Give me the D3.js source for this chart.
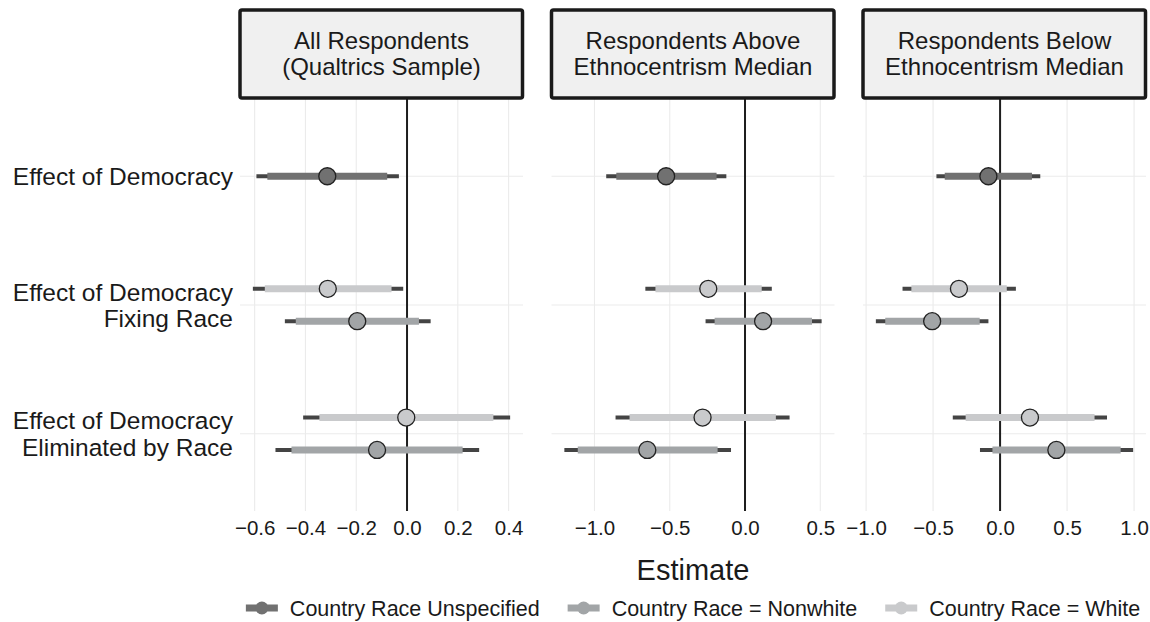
<!DOCTYPE html>
<html>
<head>
<meta charset="utf-8">
<script src="https://cdn.jsdelivr.net/npm/d3@7"></script>
<style>
  body { margin: 0; background: #fff; }
  text { font-family: "Liberation Sans", Arial, Helvetica, sans-serif; fill: #1a1a1a; }
</style>
</head>
<body>
<div id="chart"></div>
<script>

// panels (facets), categories (rows), series
var panelTitles = [
  ["All Respondents", "(Qualtrics Sample)"],
  ["Respondents Above", "Ethnocentrism Median"],
  ["Respondents Below", "Ethnocentrism Median"]
];
var categories = [
  ["Effect of Democracy"],
  ["Effect of Democracy", "Fixing Race"],
  ["Effect of Democracy", "Eliminated by Race"]
];
var seriesNames = ["Country Race Unspecified", "Country Race = Nonwhite", "Country Race = White"];
var seriesColors = ["#717171", "#a2a5a7", "#c9cacc"];

// each panel has five estimates in this row order
var rowCategory = [0, 1, 1, 2, 2];
var rowSeries = [0, 2, 1, 2, 1];

var estimates = [
  [-0.314, -0.312, -0.196, -0.003, -0.118],
  [-0.524, -0.244, 0.120, -0.282, -0.649],
  [-0.087, -0.307, -0.507, 0.223, 0.420]
];
var innerLow = [
  [-0.550, -0.560, -0.438, -0.345, -0.455],
  [-0.855, -0.595, -0.202, -0.767, -1.111],
  [-0.413, -0.662, -0.857, -0.257, -0.057]
];
var innerHigh = [
  [-0.078, -0.061, 0.047, 0.340, 0.219],
  [-0.189, 0.111, 0.445, 0.205, -0.182],
  [0.238, 0.050, -0.152, 0.705, 0.900]
];
var outerLow = [
  [-0.593, -0.607, -0.481, -0.409, -0.518],
  [-0.922, -0.662, -0.262, -0.860, -1.200],
  [-0.475, -0.728, -0.927, -0.353, -0.150]
];
var outerHigh = [
  [-0.032, -0.015, 0.093, 0.406, 0.284],
  [-0.124, 0.178, 0.509, 0.296, -0.093],
  [0.300, 0.118, -0.087, 0.798, 0.993]
];
var tickValues = [
  [-0.6, -0.4, -0.2, 0, 0.2, 0.4],
  [-1, -0.5, 0, 0.5],
  [-1, -0.5, 0, 0.5, 1]
];

var svg_width = 1150, svg_height = 622;
var panel_left = 240, panel_width = 283, panel_gap = 28.5;
var panel_top = 99, panel_bottom = 511;
var grid_color = "#ebebeb";

var svg = d3.select("#chart").append("svg")
  .attr("width", svg_width)
  .attr("height", svg_height);

svg.append("rect").attr("width", svg_width).attr("height", svg_height).attr("fill", "#fff");

var yScale = d3.scalePoint()
  .domain(d3.range(categories.length))
  .range([panel_top, panel_bottom])
  .padding(0.6);

// dodge white above, nonwhite below
var dodge = d3.scalePoint().domain([2, 1]).range([-16.2, 16.2]);
function rowY(i) {
  var s = rowSeries[i];
  return yScale(rowCategory[i]) + (s === 0 ? 0 : dodge(s));
}

var fmt = d3.format(".1f");

panelTitles.forEach(function(title, p) {
  var x0 = panel_left + p * (panel_width + panel_gap);
  var lo = d3.min(outerLow[p]), hi = d3.max(outerHigh[p]);
  var pad = (hi - lo) * 0.05;
  var x = d3.scaleLinear().domain([lo - pad, hi + pad]).range([x0, x0 + panel_width]);

  var g = svg.append("g");

  // grid
  g.selectAll(".vgrid").data(tickValues[p]).enter().append("line")
    .attr("x1", function(d) { return x(d); })
    .attr("x2", function(d) { return x(d); })
    .attr("y1", panel_top).attr("y2", panel_bottom)
    .attr("stroke", grid_color).attr("stroke-width", 1.1);
  g.selectAll(".hgrid").data(yScale.domain()).enter().append("line")
    .attr("x1", x0).attr("x2", x0 + panel_width)
    .attr("y1", function(d) { return yScale(d); })
    .attr("y2", function(d) { return yScale(d); })
    .attr("stroke", grid_color).attr("stroke-width", 1.1);

  // zero line
  g.append("line")
    .attr("x1", x(0)).attr("x2", x(0))
    .attr("y1", panel_top).attr("y2", panel_bottom)
    .attr("stroke", "#1e1e1e").attr("stroke-width", 2);

  var rows = d3.range(estimates[p].length);

  g.selectAll(".outer").data(rows).enter().append("line")
    .attr("x1", function(i) { return x(outerLow[p][i]); })
    .attr("x2", function(i) { return x(outerHigh[p][i]); })
    .attr("y1", rowY).attr("y2", rowY)
    .attr("stroke", "#444").attr("stroke-width", 4);

  g.selectAll(".inner").data(rows).enter().append("line")
    .attr("x1", function(i) { return x(innerLow[p][i]); })
    .attr("x2", function(i) { return x(innerHigh[p][i]); })
    .attr("y1", rowY).attr("y2", rowY)
    .attr("stroke", function(i) { return seriesColors[rowSeries[i]]; })
    .attr("stroke-width", 7);

  g.selectAll(".pt").data(rows).enter().append("circle")
    .attr("cx", function(i) { return x(estimates[p][i]); })
    .attr("cy", rowY)
    .attr("r", 8.5)
    .attr("fill", function(i) { return seriesColors[rowSeries[i]]; })
    .attr("stroke", "#222").attr("stroke-width", 1.3);

  // x axis labels
  var axis = d3.axisBottom(x).tickValues(tickValues[p]).tickFormat(fmt).tickSize(0).tickPadding(0);
  var ag = g.append("g")
    .attr("transform", "translate(0," + (panel_bottom + 9) + ")")
    .call(axis);
  ag.select(".domain").remove();
  ag.selectAll("text")
    .attr("dy", "0.71em")
    .style("font-size", "20.5px")
    .style("font-family", '"Liberation Sans", Arial, sans-serif')
    .attr("fill", "#2a2a2a");

  // strip
  g.append("rect")
    .attr("x", x0).attr("y", 10)
    .attr("width", panel_width - 0.5).attr("height", 88)
    .attr("rx", 2)
    .attr("fill", "#f0f0f0")
    .attr("stroke", "#1a1a1a").attr("stroke-width", 3.5);
  g.selectAll(".strip").data(title).enter().append("text")
    .attr("x", x0 + panel_width / 2)
    .attr("y", function(d, i) { return 48.5 + i * 26; })
    .attr("text-anchor", "middle")
    .style("font-size", "24px")
    .text(function(d) { return d; });
});

// category labels
categories.forEach(function(lines, c) {
  var cy = yScale(c);
  var lh = 26.5;
  var first = cy - (lines.length - 1) * lh / 2;
  svg.selectAll(null).data(lines).enter().append("text")
    .attr("x", 233)
    .attr("y", function(d, i) { return first + i * lh; })
    .attr("dy", "0.36em")
    .attr("text-anchor", "end")
    .style("font-size", "24.5px")
    .text(function(d) { return d; });
});

// axis title
var panels_mid = panel_left + (3 * panel_width + 2 * panel_gap) / 2;
svg.append("text")
  .attr("x", panels_mid)
  .attr("y", 580)
  .attr("text-anchor", "middle")
  .style("font-size", "29px")
  .text("Estimate");

// legend
var legend_y = 608, key_w = 32, key_gap = 12, item_gap = 28;
var lg = svg.append("g");
var items = lg.selectAll("g").data(seriesNames).enter().append("g");
items.append("line")
  .attr("x1", 0).attr("x2", key_w)
  .attr("y1", 0).attr("y2", 0)
  .attr("stroke", function(d, i) { return seriesColors[i]; })
  .attr("stroke-width", 7);
items.append("circle")
  .attr("cx", key_w / 2).attr("cy", 0).attr("r", 6.5)
  .attr("fill", function(d, i) { return seriesColors[i]; });
items.append("text")
  .attr("x", key_w + key_gap)
  .attr("dy", "0.36em")
  .style("font-size", "21.5px")
  .text(function(d) { return d; });

var widths = [];
items.each(function() { widths.push(key_w + key_gap + d3.select(this).select("text").node().getComputedTextLength()); });
var total = d3.sum(widths) + item_gap * (widths.length - 1);
var cursor = panels_mid - total / 2;
items.attr("transform", function(d, i) {
  var t = "translate(" + cursor + "," + legend_y + ")";
  cursor += widths[i] + item_gap;
  return t;
});

</script>
</body>
</html>
